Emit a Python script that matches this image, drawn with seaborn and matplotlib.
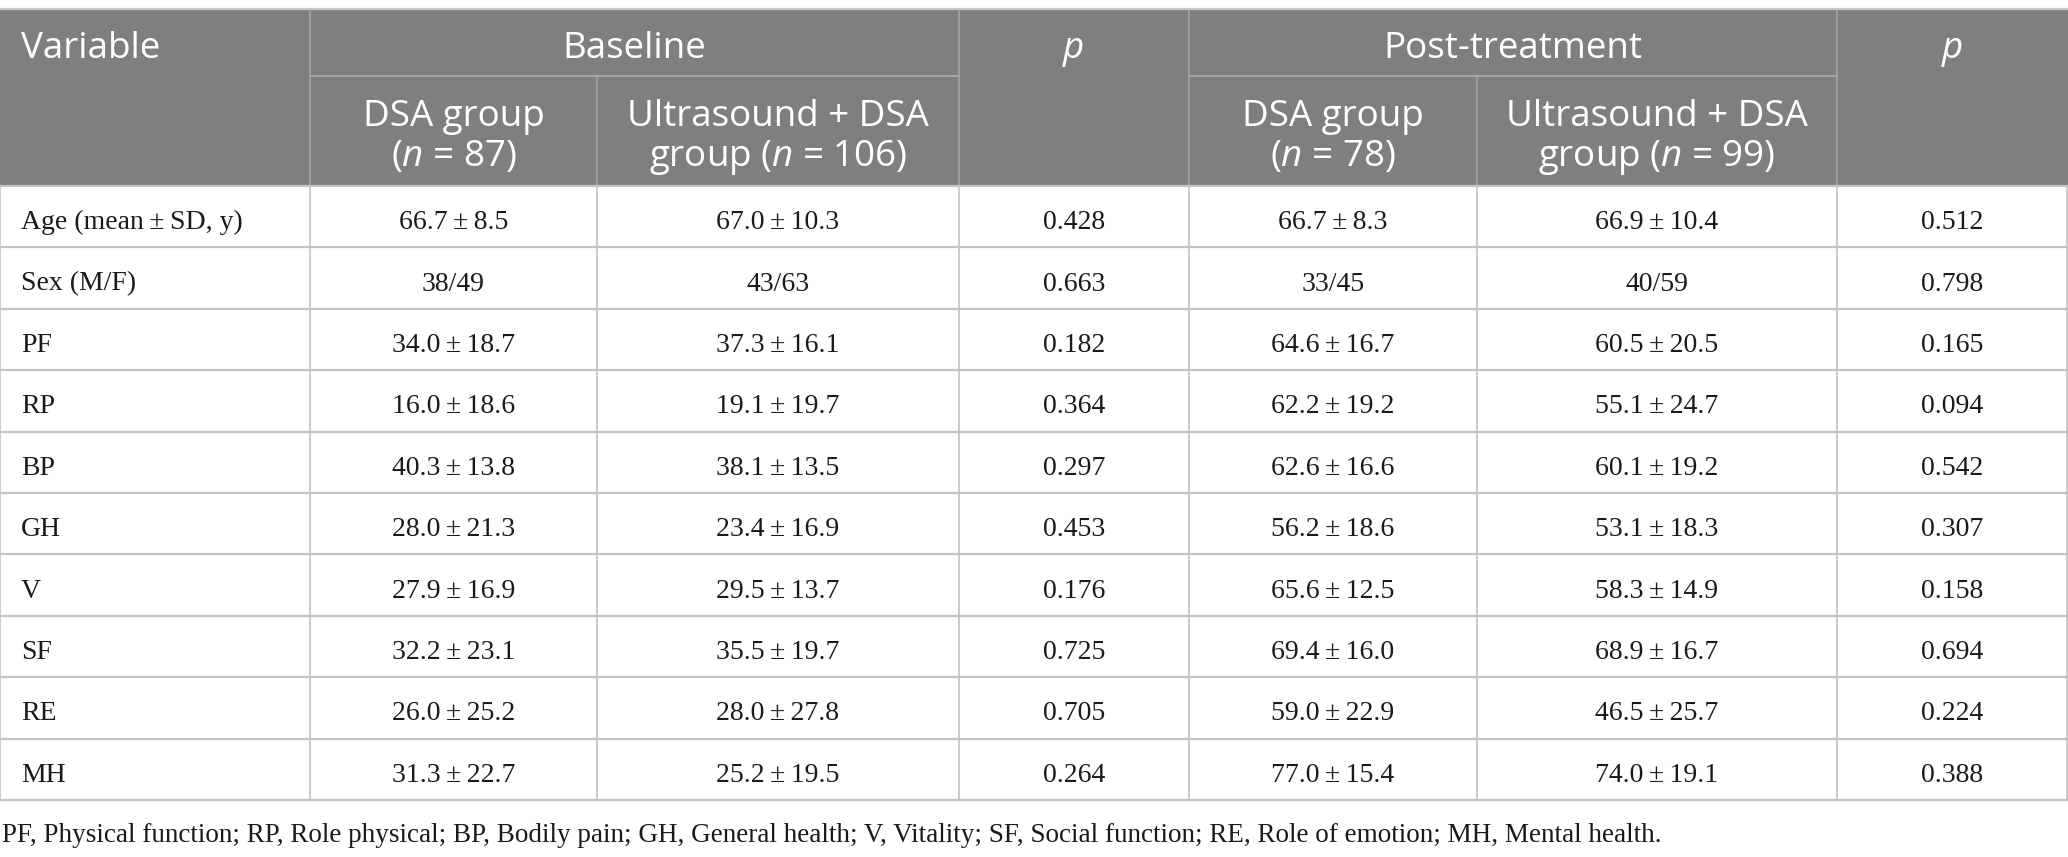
import matplotlib
matplotlib.use("Agg")
import matplotlib.pyplot as plt
from matplotlib.patches import Rectangle
import seaborn as sns

# ---------------- data ----------------
variables = ["Age (mean\u2009±\u2009SD, y)", "Sex (M/F)", "PF", "RP", "BP", "GH", "V", "SF", "RE", "MH"]
score_rows = [0, 2, 3, 4, 5, 6, 7, 8, 9]  # rows holding mean ± SD

base_dsa_mean = [66.7, 34.0, 16.0, 40.3, 28.0, 27.9, 32.2, 26.0, 31.3]
base_dsa_sd = [8.5, 18.7, 18.6, 13.8, 21.3, 16.9, 23.1, 25.2, 22.7]
base_us_mean = [67.0, 37.3, 19.1, 38.1, 23.4, 29.5, 35.5, 28.0, 25.2]
base_us_sd = [10.3, 16.1, 19.7, 13.5, 16.9, 13.7, 19.7, 27.8, 19.5]
post_dsa_mean = [66.7, 64.6, 62.2, 62.6, 56.2, 65.6, 69.4, 59.0, 77.0]
post_dsa_sd = [8.3, 16.7, 19.2, 16.6, 18.6, 12.5, 16.0, 22.9, 15.4]
post_us_mean = [66.9, 60.5, 55.1, 60.1, 53.1, 58.3, 68.9, 46.5, 74.0]
post_us_sd = [10.4, 20.5, 24.7, 19.2, 18.3, 14.9, 16.7, 25.7, 19.1]

sex_base_dsa = (38, 49)
sex_base_us = (43, 63)
sex_post_dsa = (33, 45)
sex_post_us = (40, 59)

base_p = [0.428, 0.663, 0.182, 0.364, 0.297, 0.453, 0.176, 0.725, 0.705, 0.264]
post_p = [0.512, 0.798, 0.165, 0.094, 0.542, 0.307, 0.158, 0.694, 0.224, 0.388]

group_headers = ["Baseline", "Post-treatment"]
sub_headers = [("DSA group", "($\\mathit{n}$ = 87)"), ("Ultrasound + DSA", "group ($\\mathit{n}$ = 106)"),
               ("DSA group", "($\\mathit{n}$ = 78)"), ("Ultrasound + DSA", "group ($\\mathit{n}$ = 99)")]
footnote = ("PF, Physical function; RP, Role physical; BP, Bodily pain; GH, General health; "
            "V, Vitality; SF, Social function; RE, Role of emotion; MH, Mental health.")

# ---------------- style ----------------
sns.set_theme(style="white")
plt.rcParams["mathtext.fontset"] = "custom"
plt.rcParams["mathtext.rm"] = "Open Sans"
plt.rcParams["mathtext.it"] = "Open Sans:italic"
plt.rcParams["font.family"] = ["Liberation Serif", "DejaVu Serif"]

W, H = 2068, 857
fig = plt.figure(figsize=(W / 100, H / 100), dpi=100)
ax = fig.add_axes([0, 0, 1, 1])
ax.set_xlim(0, W)
ax.set_ylim(H, 0)
ax.axis("off")

col_x = [0, 310, 597, 958.5, 1189, 1477, 1837, 2067]
top, split, hdr_bot = 10, 75.5, 186
row_h = (800 - hdr_bot) / 10

head_bg = "#7f807e"
head_line = "#a3a3a3"
grid = "#c3c3c3"
sans = "Open Sans"
hfs = 26.5
bfs = 20

# header background
ax.add_patch(Rectangle((0, top), W, hdr_bot - top, color=head_bg, lw=0, zorder=0))
ax.plot([0, W], [top - 1, top - 1], color="#c8c8c8", lw=1.6)

# header lines
for x in [col_x[1], col_x[3], col_x[4], col_x[6]]:
    ax.plot([x, x], [top, hdr_bot], color=head_line, lw=1.2)
for x in [col_x[2], col_x[5]]:
    ax.plot([x, x], [split, hdr_bot], color=head_line, lw=1.2)
ax.plot([col_x[1], col_x[3]], [split, split], color=head_line, lw=1.5)
ax.plot([col_x[4], col_x[6]], [split, split], color=head_line, lw=1.5)

# header text
y1 = (top + split) / 2 + 2
ax.text(21, y1, "Variable", color="white", fontsize=hfs, family=sans,
        ha="left", va="center_baseline")
ax.text((col_x[1] + col_x[3]) / 2, y1, group_headers[0], color="white",
        fontsize=hfs, family=sans, ha="center", va="center_baseline")
ax.text((col_x[4] + col_x[6]) / 2, y1, group_headers[1], color="white",
        fontsize=hfs, family=sans, ha="center", va="center_baseline")
for cx in [(col_x[3] + col_x[4]) / 2, (col_x[6] + col_x[7]) / 2]:
    ax.text(cx, y1, "p", color="white", fontsize=hfs, family=sans,
            style="italic", ha="center", va="center_baseline")
sub_cols = [0, 1, 3, 4]
for k, c in enumerate(sub_cols):
    cx = (col_x[1 + c] + col_x[2 + c]) / 2
    l1, l2 = sub_headers[k]
    ax.text(cx, 112, l1, color="white", fontsize=hfs, family=sans,
            ha="center", va="center_baseline")
    ax.text(cx, 152, l2, color="white", fontsize=hfs, family=sans,
            ha="center", va="center_baseline")

# body cells
def fmt(m, s):
    return f"{m:.1f}\u2009±\u2009{s:.1f}"

cells = [[""] * 7 for _ in range(10)]
for i, r in enumerate(score_rows):
    cells[r][1] = fmt(base_dsa_mean[i], base_dsa_sd[i])
    cells[r][2] = fmt(base_us_mean[i], base_us_sd[i])
    cells[r][4] = fmt(post_dsa_mean[i], post_dsa_sd[i])
    cells[r][5] = fmt(post_us_mean[i], post_us_sd[i])
cells[1][1] = "%d/%d" % sex_base_dsa
cells[1][2] = "%d/%d" % sex_base_us
cells[1][4] = "%d/%d" % sex_post_dsa
cells[1][5] = "%d/%d" % sex_post_us
for r in range(10):
    cells[r][0] = variables[r]
    cells[r][3] = f"{base_p[r]:.3f}"
    cells[r][6] = f"{post_p[r]:.3f}"

for r in range(10):
    yc = hdr_bot + (r + 0.5) * row_h + 3
    for c in range(7):
        if c == 0:
            ax.text(21, yc, cells[r][c], fontsize=bfs, color="#1a1a1a", ha="left",
                    va="center_baseline")
        else:
            ax.text((col_x[c] + col_x[c + 1]) / 2, yc, cells[r][c], fontsize=bfs,
                    color="#1a1a1a", ha="center", va="center_baseline")

# body grid
for r in range(11):
    y = hdr_bot + r * row_h
    ax.plot([0, W], [y, y], color=grid, lw=1.6)
for x in col_x:
    ax.plot([x, x], [hdr_bot, 800], color=grid, lw=1.2)

ax.text(2, 833, footnote, fontsize=19.5, color="#1a1a1a", ha="left", va="center_baseline")

fig.savefig("out.png", dpi=100)
